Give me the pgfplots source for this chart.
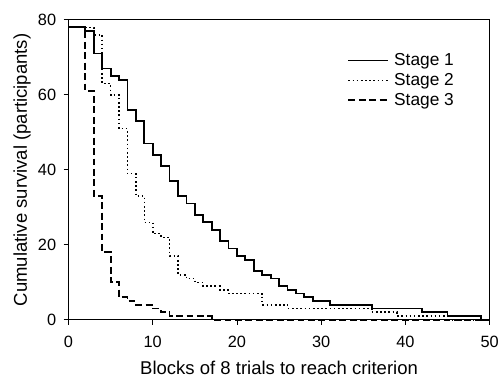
\documentclass[border=0pt]{standalone}
\usepackage{fontspec}
\setmainfont{Liberation Sans}
\usepackage{pgfplots}
\pgfplotsset{compat=1.18}
\begin{document}
\begin{tikzpicture}
\begin{axis}[
  scale only axis, width=424bp, height=302bp,
  xmin=0, xmax=50, ymin=0, ymax=80,
  xtick={0,10,...,50}, ytick={0,20,...,80},
  tick pos=left, tick align=outside, major tick length=5bp,
  axis line style={line width=0.8bp},
  every tick/.style={black, line width=0.8bp},
  /pgf/number format/assume math mode=true,
  tick label style={font=\fontsize{16.5}{19}\selectfont},
  xticklabel style={yshift=-8bp},
  yticklabel style={xshift=-4bp},
  label style={font=\fontsize{18.7}{22}\selectfont},
  xlabel={Blocks of 8 trials to reach criterion},
  ylabel={Cumulative survival (participants)},
  xlabel style={at={(axis description cs:0.5,-0.182)}, anchor=base},
  ylabel style={at={(axis description cs:-0.099,0.5)}, anchor=base},
  clip=false,
  legend style={draw=none, fill=none, at={(0.655,0.905)}, anchor=north west,
    font=\fontsize{17.5}{21}\selectfont, nodes={inner sep=3.2bp}, column sep=2bp},
  legend cell align=left,
  legend image code/.code={\draw[#1] (0bp,0bp) -- (40bp,0bp);},
]
\addplot[const plot, black, line width=1.8bp] coordinates {
(0,78)(2,77)(3,71)(4,67)(5,65)(6,64)(7,56)(8,53)(9,47)(10,44)(11,41)(12,37)(13,33)(14,31)(15,28)(16,26)(17,24)(18,21)(19,19)(20,17)(21,16)(22,13)(23,12)(24,11)(25,9)(26,8)(27,7)(28,6)(29,5)(31,4)(36,3)(42,2)(45,1)(49,0)(50,0)};
\addlegendentry{Stage 1}
\addplot[const plot, black, line width=1.6bp, dash pattern=on 1.6bp off 2.6bp] coordinates {
(0,78)(3,76)(4,63)(5,60)(6,51)(7,39)(8,33)(9,26)(10,23)(11,22)(12,17)(13,12)(14,11)(15,10)(16,9)(18,8)(19,7)(23,4)(26,3)(36,2)(39,1)(45,0)(50,0)};
\addlegendentry{Stage 2}
\addplot[const plot, black, line width=1.8bp, dash pattern=on 7bp off 3.5bp] coordinates {
(0,78)(2,61)(3,33)(4,18)(5,10)(6,6)(7,5)(8,4)(10,3)(11,2)(12,1)(17,0)(50,0)};
\addlegendentry{Stage 3}
\path (rel axis cs:0,0) ++(-69bp,-58bp) coordinate (bl);
\path (rel axis cs:1,1) ++(9bp,20bp) coordinate (tr);
\path[draw=none] (bl) rectangle (tr);
\end{axis}
\end{tikzpicture}
\end{document}
